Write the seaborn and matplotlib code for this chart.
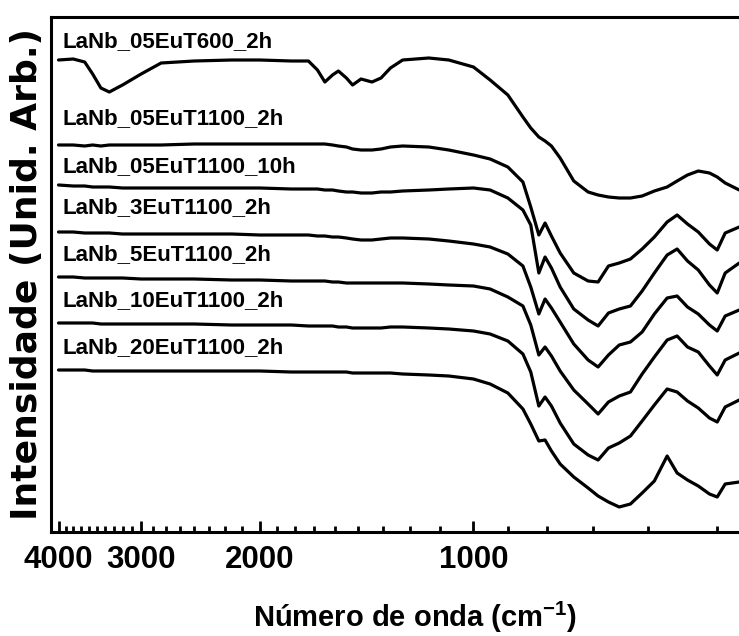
import numpy as np
import pandas as pd
import matplotlib
matplotlib.use("Agg")
import matplotlib.pyplot as plt
import seaborn as sns
from matplotlib.ticker import FixedLocator, FixedFormatter, NullFormatter

# Wavenumber grid (cm^-1) shared by all spectra
wavenumber = [4000, 3800, 3650, 3550, 3450, 3350, 3200, 3000, 2800, 2500,
              2200, 2000, 1800, 1700, 1650, 1610, 1570, 1540, 1500, 1470,
              1430, 1380, 1340, 1300, 1250, 1150, 1080, 1000, 950, 900,
              860, 840, 820, 805, 790, 770, 740, 710, 690, 670,
              650, 630, 610, 590, 570, 555, 540, 525, 510, 500,
              490, 473]

# Stacked FTIR spectra (arbitrary units, vertical offsets included)
eu05_t600_2h = [472, 473, 470, 458, 444, 440, 447, 458, 469, 471,
                472, 472, 471, 471, 462, 450, 457, 461, 454, 447,
                453, 450, 454, 464, 472, 474, 472, 465, 452, 437,
                415, 404, 395, 391, 386, 374, 351, 340, 337, 335,
                334, 334, 336, 341, 345, 351, 357, 361, 359, 355,
                349, 342]
eu05_t1100_2h = [387, 387, 386, 387, 386, 387, 387, 387, 387, 388,
                 388, 388, 388, 388, 388, 388, 387, 386, 385, 383,
                 382, 382, 383, 385, 386, 385, 382, 377, 373, 365,
                 350, 325, 297, 309, 296, 279, 259, 251, 250, 266,
                 269, 273, 283, 295, 310, 317, 308, 300, 288, 282,
                 299, 305]
eu05_t1100_10h = [347, 346, 346, 345, 345, 345, 344, 344, 344, 344,
                  344, 344, 343, 343, 343, 342, 342, 341, 340, 340,
                  339, 339, 340, 340, 341, 342, 343, 344, 342, 334,
                  322, 307, 259, 275, 264, 245, 223, 212, 206, 219,
                  223, 226, 241, 259, 277, 283, 271, 262, 247, 239,
                  259, 269]
eu3_t1100_2h = [300, 300, 299, 299, 299, 299, 298, 298, 298, 298,
                298, 297, 297, 297, 296, 296, 295, 295, 294, 293,
                292, 292, 293, 294, 294, 293, 291, 288, 285, 278,
                266, 245, 218, 233, 224, 210, 188, 172, 165, 177,
                187, 190, 200, 218, 234, 236, 225, 218, 207, 201,
                216, 222]
eu5_t1100_2h = [255, 255, 254, 254, 254, 254, 254, 253, 253, 253,
                252, 252, 251, 251, 251, 251, 250, 250, 249, 249,
                249, 249, 249, 249, 249, 248, 247, 246, 243, 235,
                226, 207, 177, 185, 176, 161, 142, 128, 118, 130,
                136, 140, 158, 175, 192, 196, 185, 180, 166, 157,
                172, 179]
eu10_t1100_2h = [209, 209, 209, 209, 208, 208, 208, 208, 208, 208,
                 207, 207, 207, 206, 206, 206, 206, 205, 205, 204,
                 204, 204, 204, 205, 205, 204, 203, 201, 198, 191,
                 178, 160, 126, 135, 126, 109, 88, 77, 72, 84,
                 89, 96, 111, 127, 143, 140, 131, 124, 114, 110,
                 125, 132]
eu20_t1100_2h = [162, 162, 162, 161, 161, 161, 161, 161, 161, 161,
                 161, 161, 160, 160, 160, 160, 160, 160, 160, 159,
                 159, 159, 159, 159, 158, 157, 156, 153, 148, 139,
                 123, 108, 91, 92, 81, 68, 55, 44, 36, 30,
                 25, 28, 39, 51, 76, 59, 52, 46, 38, 35,
                 48, 50]

sample_names = ["LaNb_05EuT600_2h", "LaNb_05EuT1100_2h", "LaNb_05EuT1100_10h",
                "LaNb_3EuT1100_2h", "LaNb_5EuT1100_2h", "LaNb_10EuT1100_2h",
                "LaNb_20EuT1100_2h"]
spectra = [eu05_t600_2h, eu05_t1100_2h, eu05_t1100_10h, eu3_t1100_2h,
           eu5_t1100_2h, eu10_t1100_2h, eu20_t1100_2h]
# Height at which each sample name is written
label_heights = [490, 413, 365, 324, 277, 231, 184]

major_ticks = [4000, 3000, 2000, 1000]
major_labels = ["4000", "3000", "2000", "1000"]
minor_ticks = ([3900, 3800, 3700, 3600, 3500, 3400, 3300, 3200, 3100]
               + [2875, 2750, 2625, 2500, 2375, 2250, 2125]
               + [1889, 1778, 1667, 1556, 1444, 1333, 1222, 1111]
               + [900, 800, 700, 600, 500])

sns.set_style("ticks")
plt.rcParams["font.family"] = ["Liberation Sans", "DejaVu Sans"]
plt.rcParams["font.weight"] = "bold"
plt.rcParams["text.color"] = "black"
plt.rcParams["axes.labelcolor"] = "black"
plt.rcParams["xtick.color"] = "black"
plt.rcParams["ytick.color"] = "black"
plt.rcParams["mathtext.fontset"] = "custom"
plt.rcParams["mathtext.rm"] = "Liberation Sans:bold"
plt.rcParams["mathtext.bf"] = "Liberation Sans:bold"

frames = [pd.DataFrame({"wavenumber": wavenumber, "intensity": vals, "sample": name})
          for name, vals in zip(sample_names, spectra)]
df = pd.concat(frames, ignore_index=True)

fig = plt.figure(figsize=(7.39, 6.36), dpi=100)
ax = fig.add_axes([50.5 / 739, 1 - 532 / 636, (779.5 - 50.5) / 739, (532 - 17) / 636])

sns.lineplot(data=df, x="wavenumber", y="intensity", hue="sample",
             palette=["black"] * len(sample_names), estimator=None,
             legend=False, linewidth=2.3, ax=ax)


def _fwd(x):
    return np.log10(np.clip(np.asarray(x, dtype=float) - 150.0, 1e-6, None))


def _inv(y):
    return 10.0 ** np.asarray(y, dtype=float) + 150.0


ax.set_xscale("function", functions=(_fwd, _inv))
ax.set_xlim(4114, 429)
ax.set_ylim(0, 515)

for name, h in zip(sample_names, label_heights):
    ax.text(3950, h, name, fontsize=16, fontweight="bold", color="black",
            ha="left", va="center")

ax.xaxis.set_major_locator(FixedLocator(major_ticks))
ax.xaxis.set_major_formatter(FixedFormatter(major_labels))
ax.xaxis.set_minor_locator(FixedLocator(minor_ticks))
ax.xaxis.set_minor_formatter(NullFormatter())
ax.tick_params(axis="x", which="major", direction="in", length=8, width=2,
               labelsize=22.5, pad=9, top=False, colors="black")
ax.tick_params(axis="x", which="minor", direction="in", length=4, width=2, top=False)
ax.tick_params(axis="y", left=False, labelleft=False)
for lbl in ax.get_xticklabels():
    lbl.set_fontweight("bold")

for side in ["left", "bottom", "top"]:
    ax.spines[side].set_linewidth(2.2)
    ax.spines[side].set_color("black")
ax.spines["right"].set_visible(False)

ax.set_xlabel("Número de onda (cm$^{-1}$)", fontsize=21, fontweight="bold",
              color="black", labelpad=18)
ax.set_ylabel("Intensidade (Unid. Arb.)", fontsize=26, fontweight="bold",
              family=["DejaVu Sans"], color="black", labelpad=5)

fig.savefig("out.png", dpi=100)
